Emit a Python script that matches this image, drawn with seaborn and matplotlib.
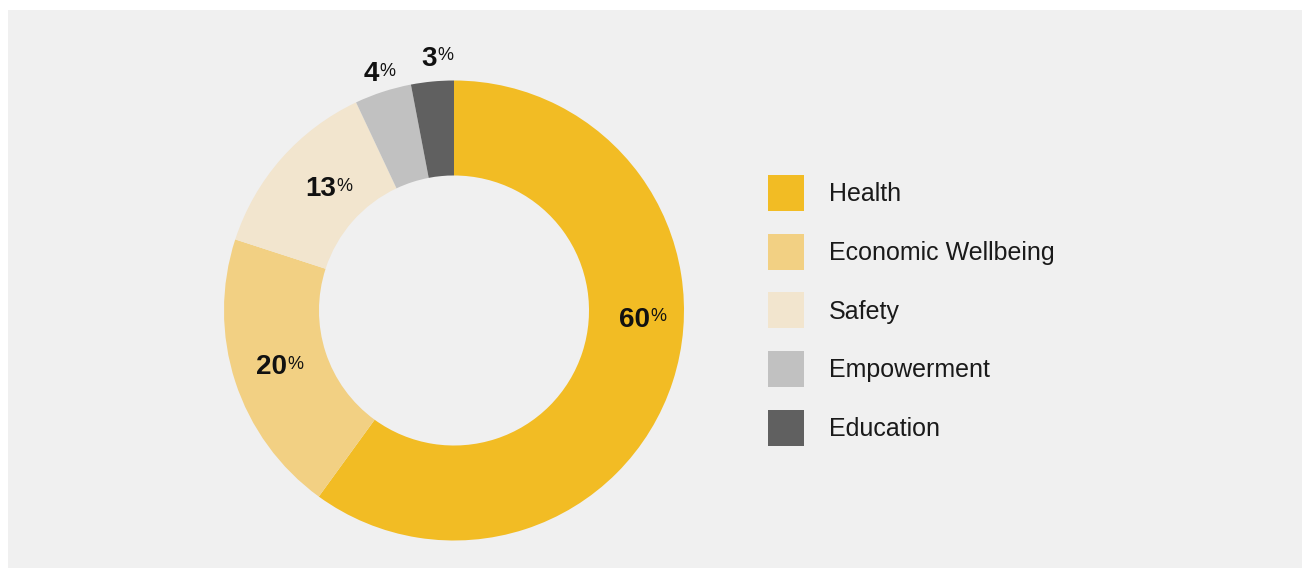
import matplotlib
matplotlib.use("Agg")
import matplotlib.pyplot as plt
import seaborn as sns
from matplotlib.patches import Rectangle

# ---- data ----
categories = ["Health", "Economic Wellbeing", "Safety", "Empowerment", "Education"]
shares = [60, 20, 13, 4, 3]
label_texts = ["60", "20", "13", "4", "3"]
colors = ["#F2BC24", "#F2D083", "#F2E5CE", "#C1C1C1", "#606060"]

# label anchor positions (layout, in donut-radius units: x, baseline y)
label_x = [0.785, -0.793, -0.580, -0.361, -0.107]
label_y = [-0.070, -0.278, 0.496, 0.996, 1.065]

sns.set_theme(style="white")
plt.rcParams["font.family"] = ["Liberation Sans", "DejaVu Sans"]

W, H = 1302, 568
fig = plt.figure(figsize=(W / 100, H / 100), dpi=100)
fig.patch.set_facecolor("white")
fig.patches.append(Rectangle((8 / W, 0), 1, 1 - 10 / H, transform=fig.transFigure,
                             facecolor="#F0F0F0", edgecolor="none", zorder=-10))

cx, cy, r = 454, 310.5, 230
ax = fig.add_axes([(cx - r) / W, (H - cy - r) / H, 2 * r / W, 2 * r / H])
ax.set_facecolor("none")
ax.patch.set_alpha(0)

palette = sns.color_palette(colors)
wedges, _ = ax.pie(shares, colors=palette, startangle=90, counterclock=False,
                   radius=1.0, wedgeprops=dict(width=0.413, linewidth=0))
ax.set_xlim(-1, 1)
ax.set_ylim(-1, 1)
ax.set_aspect("equal")
ax.axis("off")

for txt, x, y in zip(label_texts, label_x, label_y):
    t = ax.text(x, y, txt, ha="center", va="baseline", fontsize=20,
                fontweight="bold", color="#111111", clip_on=False)
    ax.annotate("%", xy=(1, 1), xycoords=t, xytext=(0.5, -1.0),
                textcoords="offset points", ha="left", va="top",
                fontsize=13, color="#111111", annotation_clip=False)

leg = fig.legend(wedges, categories, loc="upper left",
                 bbox_to_anchor=(768 / W, 1 - 175 / H), frameon=False,
                 fontsize=18, handlelength=1.44, handleheight=1.838,
                 handletextpad=1.0, labelspacing=0.91, borderpad=0,
                 borderaxespad=0, labelcolor="#1a1a1a")

fig.savefig("out.png", dpi=100, facecolor=fig.get_facecolor())
